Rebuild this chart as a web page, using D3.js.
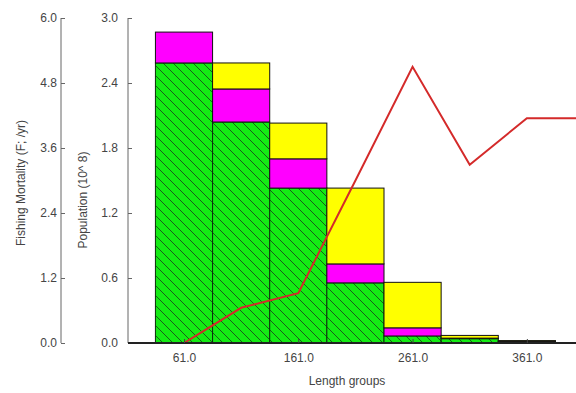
<!DOCTYPE html>
<html>
<head>
<meta charset="utf-8">
<script src="https://cdn.jsdelivr.net/npm/d3@7"></script>
<style>
  body { margin: 0; background: #fff; }
  text { font-family: Arial, "Liberation Sans", sans-serif; fill: #444; }
</style>
</head>
<body>
<svg id="chart" width="576" height="393"></svg>
<script>
// Length group centres
const lengths = [61, 111, 161, 211, 261, 311, 361];
// stacked population components (10^8)
const greenVals = [2.585, 2.04, 1.43, 0.555, 0.065, 0.04, 0.015];
const magentaVals = [0.285, 0.305, 0.27, 0.175, 0.075, 0.005, 0.003];
const yellowVals = [0, 0.24, 0.33, 0.70, 0.42, 0.025, 0.004];
// fishing mortality line
const fLengths = [61, 111, 161, 211, 261, 311, 361, 411];
const fValues = [0, 0.65, 0.92, 3.0, 5.1, 3.29, 4.15, 4.15];

const popTicks = [0, 0.6, 1.2, 1.8, 2.4, 3.0];
const fTicks = [0, 1.2, 2.4, 3.6, 4.8, 6.0];
const xTicks = [61, 161, 261, 361];

const svg = d3.select("#chart");
const plotTop = 18, plotBottom = 343;

const x = d3.scaleLinear().domain([12, 404]).range([128, 576]);
const yPop = d3.scaleLinear().domain([0, 3]).range([plotBottom, plotTop]);
const yF = d3.scaleLinear().domain([0, 6]).range([plotBottom, plotTop]);
const barW = x(61) - x(11);

// hatch pattern for green bars
const defs = svg.append("defs");
const pat = defs.append("pattern")
    .attr("id", "hatch")
    .attr("patternUnits", "userSpaceOnUse")
    .attr("width", 10).attr("height", 10);
pat.append("rect").attr("width", 10).attr("height", 10).attr("fill", "#14ec14");
pat.append("path")
    .attr("d", "M0,0L10,10M-3,7L3,13M7,-3L13,3")
    .attr("stroke", "#1c3a1c").attr("stroke-width", 0.8);

defs.append("clipPath").attr("id", "plotclip")
    .append("rect").attr("x", 128).attr("y", 0).attr("width", 448).attr("height", plotBottom);

// stacked bars
const stacks = lengths.map((l, i) => {
    const g = greenVals[i], m = magentaVals[i], yv = yellowVals[i];
    return [
        { l, y0: 0, y1: g, fill: "url(#hatch)", edge: "#0c300c" },
        { l, y0: g, y1: g + m, fill: "#ff00ff", edge: "#111" },
        { l, y0: g + m, y1: g + m + yv, fill: "#ffff00", edge: "#111" }
    ];
}).flat().filter(d => d.y1 > d.y0);

svg.append("g").selectAll("rect")
    .data(stacks)
    .enter().append("rect")
    .attr("x", d => x(d.l) - barW / 2)
    .attr("width", barW)
    .attr("y", d => yPop(d.y1))
    .attr("height", d => yPop(d.y0) - yPop(d.y1))
    .attr("fill", d => d.fill)
    .attr("stroke", d => d.edge)
    .attr("stroke-width", 1);

// F line
const line = d3.line()
    .x((d, i) => x(fLengths[i]))
    .y(d => yF(d));
svg.append("path")
    .datum(fValues)
    .attr("clip-path", "url(#plotclip)")
    .attr("fill", "none")
    .attr("stroke", "#d42a2a")
    .attr("stroke-width", 2)
    .attr("d", line);

// F axis (left)
const fAxis = svg.append("g")
    .attr("transform", "translate(61,0)")
    .call(d3.axisLeft(yF).tickValues(fTicks).tickFormat(d3.format(".1f")).tickSize(-4).tickPadding(4));
fAxis.select(".domain").attr("stroke", "#666").attr("d", `M0,${plotTop}V${plotBottom}`);
fAxis.selectAll(".tick line").attr("stroke", "#666");
fAxis.selectAll("text").style("font-size", "12px").attr("fill", "#555");

// Population axis
const pAxis = svg.append("g")
    .attr("transform", "translate(128,0)")
    .call(d3.axisLeft(yPop).tickValues(popTicks).tickFormat(d3.format(".1f")).tickSize(-4).tickPadding(10));
pAxis.select(".domain").attr("stroke", "#666").attr("d", `M0,${plotTop}V${plotBottom}`);
pAxis.selectAll(".tick line").attr("stroke", "#666");
pAxis.selectAll("text").style("font-size", "12px").attr("fill", "#555");

// x axis
const xAxis = svg.append("g")
    .attr("transform", `translate(0,${plotBottom})`)
    .call(d3.axisBottom(x).tickValues(xTicks).tickFormat(d3.format(".1f")).tickSize(-4).tickPadding(10));
xAxis.select(".domain").attr("stroke", "#222").attr("stroke-width", 2).attr("d", "M128,0H576");
xAxis.selectAll(".tick line").attr("stroke", "#444");
xAxis.selectAll("text").style("font-size", "12px").attr("fill", "#555");

// axis titles
svg.append("text")
    .attr("transform", "translate(25,183) rotate(-90)")
    .attr("text-anchor", "middle")
    .style("font-size", "12px")
    .text("Fishing Mortality (F; /yr)");

svg.append("text")
    .attr("transform", "translate(87,200) rotate(-90)")
    .attr("text-anchor", "middle")
    .style("font-size", "12px")
    .text("Population (10^ 8)");

svg.append("text")
    .attr("x", 347).attr("y", 385)
    .attr("text-anchor", "middle")
    .style("font-size", "12px")
    .text("Length groups");
</script>
</body>
</html>
